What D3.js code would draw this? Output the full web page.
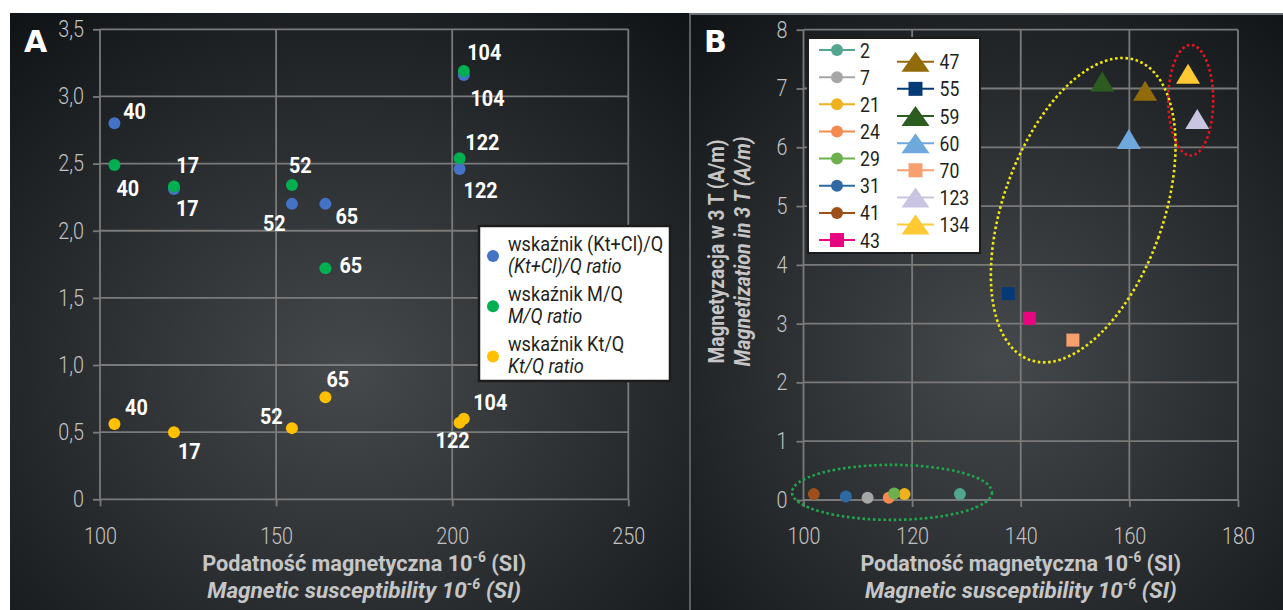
<!DOCTYPE html>
<html>
<head>
<meta charset="utf-8">
<script src="https://cdn.jsdelivr.net/npm/d3@7"></script>
<style>
  html, body { margin: 0; padding: 0; background: #ffffff; }
  svg { display: block; }
</style>
</head>
<body>
<svg id="chart" width="1283" height="610"></svg>
<script>
// ---------- Panel A: ratios vs magnetic susceptibility ----------
const samplesA = ["40", "17", "52", "65", "104", "122"];
const susceptibilityA = [104.1, 121.0, 154.5, 164.0, 203.3, 202.1];
const ratioKtClQ = [2.80, 2.31, 2.20, 2.20, 3.16, 2.46];
const ratioMQ = [2.49, 2.33, 2.34, 1.72, 3.19, 2.54];
const ratioKtQ = [0.56, 0.50, 0.53, 0.76, 0.60, 0.57];
const ticksAX = [100, 150, 200, 250];
const ticksAY = [0, 0.5, 1.0, 1.5, 2.0, 2.5, 3.0, 3.5];
const seriesNamesPl = ["wskaźnik (Kt+Cl)/Q", "wskaźnik M/Q", "wskaźnik Kt/Q"];
const seriesNamesEn = ["(Kt+Cl)/Q ratio", "M/Q ratio", "Kt/Q ratio"];

// ---------- Panel B: magnetization in 3 T vs magnetic susceptibility ----------
const samplesB = ["2", "7", "21", "24", "29", "31", "41", "43",
                  "47", "55", "59", "60", "70", "123", "134"];
const susceptibilityB = [128.8, 111.8, 118.6, 115.7, 116.7, 107.8, 101.9, 141.6,
                         162.9, 137.7, 155.0, 159.9, 149.6, 172.5, 170.8];
const magnetization3T = [0.10, 0.04, 0.10, 0.04, 0.11, 0.06, 0.10, 3.09,
                         6.96, 3.51, 7.12, 6.14, 2.72, 6.48, 7.25];
const ticksBX = [100, 120, 140, 160, 180];
const ticksBY = [0, 1, 2, 3, 4, 5, 6, 7, 8];

// ---------- styling ----------
const FONT = "Roboto, 'Noto Sans', 'DejaVu Sans', sans-serif";
const gridColor = "#7a7a7a";
const tickLabelColor = "#c3c3c3";
const titleColor = "#c6c6c6";
const seriesColorsA = ["#4472c4", "#00b050", "#ffc000"];

const markerStyleB = {
  "2":   { shape: "circle",   color: "#52a68f" },
  "7":   { shape: "circle",   color: "#a6a6a6" },
  "21":  { shape: "circle",   color: "#edb21d" },
  "24":  { shape: "circle",   color: "#f58a50" },
  "29":  { shape: "circle",   color: "#6db04e" },
  "31":  { shape: "circle",   color: "#2e69a2" },
  "41":  { shape: "circle",   color: "#9f4f1a" },
  "43":  { shape: "square",   color: "#e7067f" },
  "47":  { shape: "triangle", color: "#916b0c" },
  "55":  { shape: "square",   color: "#053a77" },
  "59":  { shape: "triangle", color: "#2d5c21" },
  "60":  { shape: "triangle", color: "#6ea8dc" },
  "70":  { shape: "square",   color: "#f8a06d" },
  "123": { shape: "triangle", color: "#c8c4e2" },
  "134": { shape: "triangle", color: "#fec932" }
};

// label placement next to each point (px offset of text start / baseline)
const labelOffsetsA = [
  [[8.7, -4.7], [2, 27], [-29, 27.3], [10, 20], [6.7, 31.4], [4, 29]],     // (Kt+Cl)/Q
  [[2, 31], [2.4, -13.3], [-3, -12], [14, 4.7], [3.4, -11], [5.7, -8.7]], // M/Q
  [[10.6, -9.3], [4, 27], [-32, -3.7], [1, -10], [9.4, -9], [-24, 25.6]]  // Kt/Q
];

// dotted group outlines on panel B (centre in data units, radii in px)
const groupOutlines = [
  { cx: 116.3, cy: 0.13, rx: 100, ry: 27.5, rot: 0,    color: "#1fa64c" },
  { cx: 151.5, cy: 4.93, rx: 80,  ry: 159,  rot: 19.6, color: "#f2e80e" },
  { cx: 171.3, cy: 6.80, rx: 22.5, ry: 55.3, rot: 0,   color: "#e3151d" }
];

// ---------- scales ----------
const xA = d3.scaleLinear().domain([100, 250]).range([100, 628.3]);
const yA = d3.scaleLinear().domain([0, 3.5]).range([499.3, 29.3]);
const xB = d3.scaleLinear().domain([100, 180]).range([803.5, 1238]);
const yB = d3.scaleLinear().domain([0, 8]).range([500, 29.7]);

const svg = d3.select("#chart");
const defs = svg.append("defs");

function bgGradient(id, cx, cy) {
  const g = defs.append("radialGradient").attr("id", id)
    .attr("cx", cx).attr("cy", cy).attr("r", 0.78).attr("fx", cx).attr("fy", cy);
  g.append("stop").attr("offset", "0").attr("stop-color", "#46494c");
  g.append("stop").attr("offset", "0.45").attr("stop-color", "#2e3134");
  g.append("stop").attr("offset", "1").attr("stop-color", "#101316");
}
bgGradient("bgA", 0.5, 0.6);
bgGradient("bgB", 0.52, 0.58);

// text helper: optional horizontal condensing, rotation, superscript parts
function addText(parent, x, y, parts, o) {
  const t = parent.append("text")
    .attr("text-anchor", o.anchor || "start")
    .attr("fill", o.fill)
    .style("font-family", o.family || FONT)
    .style("font-size", o.size + "px")
    .style("font-weight", o.weight || 400)
    .style("font-style", o.italic ? "italic" : "normal");
  (Array.isArray(parts) ? parts : [{ s: parts }]).forEach(p => {
    const ts = t.append("tspan").text(p.s);
    if (p.sup) ts.attr("dy", -p.sup).style("font-size", p.size + "px");
    if (p.down) ts.attr("dy", p.down);
  });
  let k = o.k || 1;
  if (o.width) k = o.width / t.node().getComputedTextLength();
  t.attr("transform",
    `translate(${x},${y})` + (o.rotate ? ` rotate(${o.rotate})` : "") + ` scale(${k},1)`);
  return t;
}

// ---------- panel backgrounds ----------
svg.append("rect").attr("x", 10).attr("y", 13).attr("width", 680).attr("height", 597)
  .attr("fill", "url(#bgA)");
svg.append("rect").attr("x", 691).attr("y", 13).attr("width", 592).attr("height", 597)
  .attr("fill", "url(#bgB)");
svg.append("line").attr("x1", 690).attr("x2", 690).attr("y1", 13).attr("y2", 610)
  .attr("stroke", "#5c5e60").attr("stroke-width", 2);
svg.append("line").attr("x1", 689).attr("x2", 1283).attr("y1", 14).attr("y2", 14)
  .attr("stroke", "#6e7072").attr("stroke-width", 2);

// ---------- axes + grid ----------
function drawGrid(g, x, y, xt, yt) {
  const [x0, x1] = x.range();
  const [y0, y1] = y.range();
  g.append("g").selectAll("line").data(yt).join("line")
    .attr("x1", x0).attr("x2", x1).attr("y1", d => y(d)).attr("y2", d => y(d))
    .attr("stroke", gridColor).attr("stroke-width", 1.8);
  g.append("g").selectAll("line").data(xt).join("line")
    .attr("x1", d => x(d)).attr("x2", d => x(d)).attr("y1", y1).attr("y2", y0)
    .attr("stroke", gridColor).attr("stroke-width", 1.8);
}

function drawAxes(g, x, y, xt, yt, fmtY) {
  const k = 0.86;
  const ax = g.append("g").attr("transform", `translate(0,${y.range()[0]})`)
    .call(d3.axisBottom(x).tickValues(xt).tickSize(7).tickPadding(21).tickFormat(d3.format("d")));
  const ay = g.append("g").attr("transform", `translate(${x.range()[0]},0)`)
    .call(d3.axisLeft(y).tickValues(yt).tickSize(7).tickPadding(9).tickFormat(fmtY));
  [ax, ay].forEach(a => {
    a.select(".domain").remove();
    a.selectAll(".tick line").attr("stroke", gridColor).attr("stroke-width", 1.8);
    a.selectAll(".tick text")
      .attr("fill", tickLabelColor)
      .style("font-family", FONT).style("font-size", "23px").style("font-weight", 300);
  });
  ay.selectAll(".tick text").attr("x", -16 / k).attr("transform", `scale(${k},1)`);
  ax.selectAll(".tick text").attr("transform", `scale(${k},1)`);
}

const fmtComma = v => v === 0 ? "0" : d3.format(".1f")(v).replace(".", ",");

// ================= PANEL A =================
const gA = svg.append("g");
drawGrid(gA, xA, yA, ticksAX, ticksAY);
drawAxes(gA, xA, yA, ticksAX, ticksAY, fmtComma);

const seriesA = [ratioKtClQ, ratioMQ, ratioKtQ];
seriesA.forEach((vals, si) => {
  gA.append("g").selectAll("circle").data(vals).join("circle")
    .attr("cx", (d, i) => xA(susceptibilityA[i]))
    .attr("cy", d => yA(d))
    .attr("r", 6)
    .attr("fill", seriesColorsA[si]);
});
const labelsA = gA.append("g");
seriesA.forEach((vals, si) => {
  vals.forEach((v, i) => {
    const [dx, dy] = labelOffsetsA[si][i];
    addText(labelsA, xA(susceptibilityA[i]) + dx, yA(v) + dy, samplesA[i],
      { size: 22, weight: 700, fill: "#ffffff", k: 0.9 });
  });
});

// legend A
const legA = gA.append("g");
legA.append("rect").attr("x", 479).attr("y", 226).attr("width", 191).attr("height", 155)
  .attr("fill", "#ffffff").attr("stroke", "#1c1c1c").attr("stroke-width", 2.5);
seriesNamesPl.forEach((name, i) => {
  const yy = 256 + i * 50.3;
  legA.append("circle").attr("cx", 493).attr("cy", yy).attr("r", 6).attr("fill", seriesColorsA[i]);
  addText(legA, 508, yy - 5.3, name, { size: 19.5, fill: "#231f20", k: 0.93 });
  addText(legA, 508, yy + 16.7, seriesNamesEn[i], { size: 19.5, fill: "#231f20", italic: true, k: 0.93 });
});

// titles A
addText(gA, 24, 52, "A", { size: 30, weight: 700, fill: "#ffffff", family: "'DejaVu Sans', sans-serif" });
const xMidA = (xA.range()[0] + xA.range()[1]) / 2;
addText(gA, xMidA, 571, [{ s: "Podatność magnetyczna 10" }, { s: "-6", sup: 9, size: 14 }, { s: " (SI)", down: 9 }],
  { size: 22, weight: 700, fill: titleColor, anchor: "middle", width: 324 });
addText(gA, xMidA, 598, [{ s: "Magnetic susceptibility 10" }, { s: "-6", sup: 9, size: 14 }, { s: " (SI)", down: 9 }],
  { size: 22, weight: 700, italic: true, fill: titleColor, anchor: "middle", width: 314 });

// ================= PANEL B =================
const gB = svg.append("g");
drawGrid(gB, xB, yB, ticksBX, ticksBY);
drawAxes(gB, xB, yB, ticksBX, ticksBY, d3.format("d"));

function markerPath(shape, size) {
  if (shape === "triangle") {
    const w = size.w, h = size.h;
    return `M0,${-h / 2}L${w / 2},${h / 2}L${-w / 2},${h / 2}Z`;
  }
  if (shape === "square") {
    const s = size.s / 2;
    return `M${-s},${-s}H${s}V${s}H${-s}Z`;
  }
  const r = size.r;
  return `M${-r},0A${r},${r} 0 1,0 ${r},0A${r},${r} 0 1,0 ${-r},0Z`;
}
const plotSize = { r: 6, s: 13, w: 24, h: 20 };
const legendSize = { r: 6, s: 14, w: 28, h: 20 };

gB.append("g").selectAll("path").data(samplesB).join("path")
  .attr("d", d => markerPath(markerStyleB[d].shape, plotSize))
  .attr("transform", (d, i) => `translate(${xB(susceptibilityB[i])},${yB(magnetization3T[i])})`)
  .attr("fill", d => markerStyleB[d].color);

// dotted group outlines
gB.append("g").selectAll("ellipse").data(groupOutlines).join("ellipse")
  .attr("cx", 0).attr("cy", 0)
  .attr("rx", d => d.rx).attr("ry", d => d.ry)
  .attr("transform", d => `translate(${xB(d.cx)},${yB(d.cy)}) rotate(${d.rot})`)
  .attr("fill", "none").attr("stroke", d => d.color)
  .attr("stroke-width", 2.6).attr("stroke-dasharray", "2.6 2.6");

// legend B
const legB = gB.append("g");
legB.append("rect").attr("x", 808).attr("y", 38).attr("width", 172).attr("height", 215)
  .attr("fill", "#ffffff").attr("stroke", "#1c1c1c").attr("stroke-width", 2);
samplesB.forEach((s, i) => {
  const col = i < 8 ? 0 : 1;
  const row = col === 0 ? i : i - 8;
  const yy = (col === 0 ? 50 : 61.7) + row * 27.15;
  const lx0 = col === 0 ? 819 : 897, lx1 = col === 0 ? 855 : 934;
  const mx = (lx0 + lx1) / 2;
  const st = markerStyleB[s];
  legB.append("line").attr("x1", lx0).attr("x2", lx1).attr("y1", yy).attr("y2", yy)
    .attr("stroke", st.color).attr("stroke-width", 2);
  legB.append("path").attr("d", markerPath(st.shape, legendSize))
    .attr("transform", `translate(${mx},${yy})`).attr("fill", st.color);
  addText(legB, col === 0 ? 860 : 939.5, yy + 7.5, s, { size: 21, fill: "#231f20", k: 0.84 });
});

// titles B
addText(gB, 704, 52, "B", { size: 30, weight: 700, fill: "#ffffff", family: "'DejaVu Sans', sans-serif" });
const xMidB = (xB.range()[0] + xB.range()[1]) / 2;
addText(gB, xMidB, 571, [{ s: "Podatność magnetyczna 10" }, { s: "-6", sup: 9, size: 14 }, { s: " (SI)", down: 9 }],
  { size: 22, weight: 700, fill: titleColor, anchor: "middle", width: 321 });
addText(gB, xMidB, 598, [{ s: "Magnetic susceptibility 10" }, { s: "-6", sup: 9, size: 14 }, { s: " (SI)", down: 9 }],
  { size: 22, weight: 700, italic: true, fill: titleColor, anchor: "middle", width: 312 });
addText(gB, 723.5, 251.5, "Magnetyzacja w 3 T (A/m)",
  { size: 22, weight: 700, fill: titleColor, anchor: "middle", rotate: -90, width: 224 });
addText(gB, 750, 251.5, "Magnetization in 3 T (A/m)",
  { size: 22, weight: 700, italic: true, fill: titleColor, anchor: "middle", rotate: -90, width: 230 });
</script>
</body>
</html>
